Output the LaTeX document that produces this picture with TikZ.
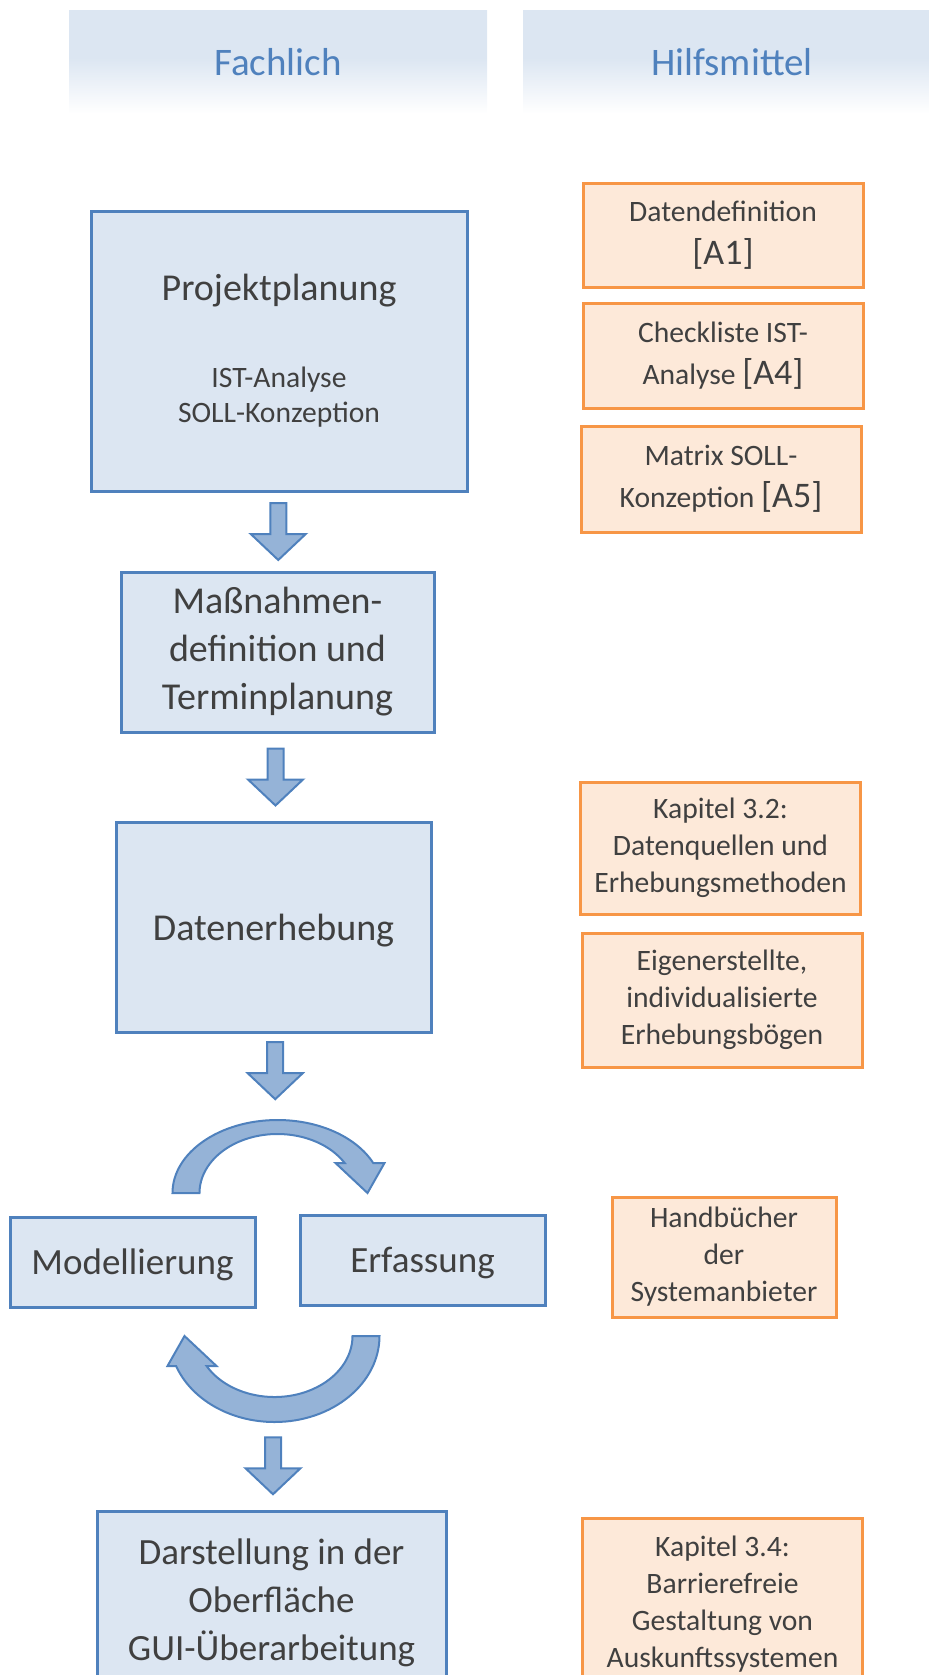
\documentclass[tikz,border=0pt]{standalone}
\usepackage{fontspec}
\setmainfont{Carlito}
\usetikzlibrary{positioning,calc}
\definecolor{flfill}{RGB}{220,230,242}
\definecolor{flline}{RGB}{79,129,189}
\definecolor{flarrow}{RGB}{149,179,215}
\definecolor{hmfill}{RGB}{253,233,217}
\definecolor{hmline}{RGB}{247,150,70}
\definecolor{fltext}{RGB}{64,64,64}
\pgfdeclareverticalshading{flfade}{100bp}{color(0bp)=(white); color(25bp)=(white); color(52bp)=(flfill); color(100bp)=(flfill)}
\tikzset{
  fl/.style={font=\fontsize{19}{24}\selectfont, text=fltext},
  flsmall/.style={font=\fontsize{18.5}{24}\selectfont},
  flbox/.style 2 args={
    fl, draw=flline, fill=flfill, line width=1.5pt,
    align=center, inner sep=0pt, minimum width=#1, minimum height=#2
  },
  hmbox/.style 2 args={
    font=\fontsize{14.8}{18.5}\selectfont, text=fltext, draw=hmline, fill=hmfill,
    line width=1.5pt, align=center, inner sep=0pt, minimum width=#1, minimum height=#2
  },
  flhead/.style={
    font=\fontsize{19.5}{23}\selectfont, text=flline, shade, shading=flfade,
    minimum width=209pt, minimum height=51.5pt, inner sep=0pt
  },
  flblock/.style={draw=flline, fill=flarrow, line width=1pt},
  flarrowdown/.pic={
    \draw[flblock] (-8,-28.5) -- (8,-28.5) -- (8,2.5) -- (27.5,2.5) -- (0,28.5)
      -- (-27.5,2.5) -- (-8,2.5) -- cycle;
  },
  pics/flcycle/.style 2 args={code={
    \draw[flblock] (-105,0) arc[start angle=180, end angle={360-asin(30/#1)}, x radius=105, y radius=#1]
      -- (107,-30) -- (90,0) -- (58,-30) -- ({78*cos(asin(30/#2))},-30)
      arc[start angle={360-asin(30/#2)}, end angle=180, x radius=78, y radius=#2] -- cycle;
  }},
}

\begin{document}
\begin{tikzpicture}[x=0.5pt, y=-0.5pt, fl]
  \useasboundingbox (0,0) rectangle (928,1675);

  % column heads
  \node[flhead] (hdrfach) at (278,62) {Fachlich};
  \node[flhead] (hdrhilf) at (732,62) {Hilfsmittel};

  % left column
  \node[flbox={188pt}{140pt}] (proj) at (279,351)
    {Projektplanung\\[19.5pt]\fontsize{14.8}{17.5}\selectfont IST-Analyse\\[-6.5pt]%
     \fontsize{14.8}{17.5}\selectfont SOLL-Konzeption};
  \node[flbox={156.5pt}{80pt}] (mass) at (277.5,652)
    {Maßnahmen-\\definition und\\Terminplanung};
  \node[flbox={157.5pt}{105pt}, text depth=0pt] (daten) at (273.5,927) {Datenerhebung};
  \node[flbox={122.5pt}{45pt}, flsmall, text depth=0pt] (model) at (132.5,1262) {Modellierung};
  \node[flbox={122.5pt}{45pt}, flsmall, text depth=0pt] (erfass) at (422.5,1260) {Erfassung};
  \node[flbox={174.5pt}{92pt}, flsmall] (darst) at (271.5,1603)
    {Darstellung in der\\Oberfläche\\GUI-Überarbeitung};

  \coordinate (loop) at ($(model.east)!.5!(erfass.west)$);
  \coordinate (looptop) at ($(loop)+(0,-141)$);
  \coordinate (loopbot) at ($(loop)+(-3,161)$);

  \pic at ($(proj.south)!.5!(mass.north)$) {flarrowdown};
  \pic at ($(mass.south)!.5!(daten.north)$) {flarrowdown};
  \pic at ($(daten.south)!.43!(looptop)$) {flarrowdown};
  \pic at ($(loop)+(0,-68)$) {flcycle={73}{59}};
  \pic[rotate=180] at ($(loop)+(-3,75)$) {flcycle={86}{61}};
  \pic at ($(loopbot)!.5!(darst.north)$) {flarrowdown};

  % right column
  \node[hmbox={140pt}{52pt}] (hm1) at (723,235)
    {Datendefinition\\[3pt]\fontsize{18}{22}\selectfont [A1]};
  \node[hmbox={140pt}{52.5pt}] (hm2) at (723,355.5)
    {Checkliste IST-\\[2.5pt]Analyse \fontsize{18}{22}\selectfont [A4]};
  \node[hmbox={140pt}{53pt}] (hm3) at (721,479)
    {Matrix SOLL-\\[2.5pt]Konzeption \fontsize{18}{22}\selectfont [A5]};
  \node[hmbox={140pt}{66pt}] (hm4) at (720.5,848)
    {Kapitel 3.2:\\Datenquellen und\\Erhebungsmethoden};
  \node[hmbox={140pt}{67pt}] (hm5) at (722,1000)
    {Eigenerstellte,\\individualisierte\\Erhebungsbögen};
  \node[hmbox={112pt}{60pt}] (hm6) at (724,1257)
    {Handbücher\\der\\Systemanbieter};
  \node[hmbox={140pt}{86pt}] (hm7) at (722.5,1604)
    {Kapitel 3.4:\\Barrierefreie\\Gestaltung von\\Auskunftssystemen};
\end{tikzpicture}
\end{document}
